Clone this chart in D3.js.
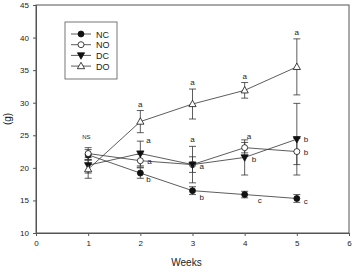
<!DOCTYPE html>
<html>
<head>
<meta charset="utf-8">
<script src="https://d3js.org/d3.v7.min.js"></script>
<style>
    body { margin: 0; background: white; }
    text { font-family: "Liberation Sans", Arial, sans-serif; fill: #222; }
</style>
</head>
<body>
<script>
    const weeks = [1, 2, 3, 4, 5];
    const groups = ['NC', 'NO', 'DC', 'DO'];

    // means and error (+/-) per group
    const ncMean = [22.0, 19.2, 16.5, 15.9, 15.3];
    const ncErr  = [0.8, 0.8, 0.6, 0.5, 0.6];
    const noMean = [22.2, 21.1, 20.5, 23.1, 22.5];
    const noErr  = [0.9, 1.0, 1.2, 0.8, 2.0];
    const dcMean = [20.4, 22.2, 20.5, 21.6, 24.4];
    const dcErr  = [1.2, 1.9, 2.8, 2.7, 5.5];
    const doMean = [19.8, 27.1, 29.8, 31.9, 35.5];
    const doErr  = [1.4, 1.7, 2.3, 1.2, 4.3];

    // significance letters: [week, value, dx, dy, text]
    const letters = [
        [1, 23.5, -6, -6, 'NS'],
        [2, 28.8, 0, -4, 'a'], [2, 24.1, 6, 2, 'a'], [2, 21.1, 7, 3, 'a'], [2, 19.2, 6, 9, 'b'],
        [3, 32.1, 0, -4, 'a'], [3, 23.3, 0, -4, 'a'], [3, 20.5, 7, 4, 'a'], [3, 16.5, 7, 9, 'b'],
        [4, 33.1, 0, -4, 'a'], [4, 23.9, 2, -3, 'a'], [4, 21.6, 7, 5, 'b'], [4, 15.9, 13, 8, 'c'],
        [5, 39.8, 0, -4, 'a'], [5, 24.4, 7, 3, 'b'], [5, 22.5, 7, 3, 'b'], [5, 15.3, 7, 6, 'c']
    ];

    const yTicks = [10, 15, 20, 25, 30, 35, 40, 45];
    const xTicks = [0, 1, 2, 3, 4, 5, 6];

    const series = [
        { name: 'NC', mean: ncMean, err: ncErr, shape: 'circle', fill: '#111' },
        { name: 'NO', mean: noMean, err: noErr, shape: 'circle', fill: 'white' },
        { name: 'DC', mean: dcMean, err: dcErr, shape: 'tridown', fill: '#111' },
        { name: 'DO', mean: doMean, err: doErr, shape: 'triup', fill: 'white' }
    ];

    const width = 353, height = 268;
    const margin = { top: 5, right: 4, bottom: 35, left: 36 };

    const svg = d3.select('body').append('svg')
        .attr('width', width).attr('height', height);

    const x = d3.scaleLinear().domain([0, 6]).range([margin.left, width - margin.right]);
    const y = d3.scaleLinear().domain([10, 45]).range([height - margin.bottom, margin.top]);

    // frame
    svg.append('rect')
        .attr('x', x(0)).attr('y', y(45))
        .attr('width', x(6) - x(0)).attr('height', y(10) - y(45))
        .attr('fill', 'none').attr('stroke', '#555').attr('stroke-width', 1);

    const xAxis = svg.append('g')
        .attr('transform', `translate(0,${y(10)})`)
        .call(d3.axisBottom(x).tickValues(xTicks).tickFormat(d3.format('d')).tickSize(3).tickPadding(4));
    const yAxis = svg.append('g')
        .attr('transform', `translate(${x(0)},0)`)
        .call(d3.axisLeft(y).tickValues(yTicks).tickSize(3).tickPadding(4));
    [xAxis, yAxis].forEach(a => {
        a.select('.domain').attr('stroke', '#555');
        a.selectAll('.tick line').attr('stroke', '#555');
        a.selectAll('text').style('font-size', '8px').attr('fill', '#222');
    });

    svg.append('text').attr('x', (x(0) + x(6)) / 2 - 6).attr('y', 266)
        .attr('text-anchor', 'middle').style('font-size', '10px').text('Weeks');
    svg.append('text')
        .attr('transform', `translate(11,${y(27.5)}) rotate(-90)`)
        .attr('text-anchor', 'middle').style('font-size', '10px').text('(g)');

    function marker(g, shape, fill) {
        if (shape === 'circle') {
            g.append('circle').attr('r', 3).attr('fill', fill).attr('stroke', '#111').attr('stroke-width', 0.8);
        } else {
            const pts = shape === 'triup' ? '0,-3.8 3.6,2.6 -3.6,2.6' : '0,3.8 3.6,-2.6 -3.6,-2.6';
            g.append('polygon').attr('points', pts).attr('fill', fill).attr('stroke', '#111').attr('stroke-width', 0.8);
        }
    }

    const line = d3.line().x((d, i) => x(weeks[i])).y(d => y(d));

    series.forEach(s => {
        svg.append('path').datum(s.mean).attr('d', line)
            .attr('fill', 'none').attr('stroke', '#333').attr('stroke-width', 0.8);
    });

    series.forEach(s => {
        const g = svg.append('g');
        s.mean.forEach((m, i) => {
            const cx = x(weeks[i]);
            const lo = y(m - s.err[i]), hi = y(m + s.err[i]);
            g.append('line').attr('x1', cx).attr('x2', cx).attr('y1', lo).attr('y2', hi)
                .attr('stroke', '#333').attr('stroke-width', 0.8);
            [lo, hi].forEach(yy => g.append('line').attr('x1', cx - 3.5).attr('x2', cx + 3.5)
                .attr('y1', yy).attr('y2', yy).attr('stroke', '#333').attr('stroke-width', 0.8));
        });
    });

    series.forEach(s => {
        s.mean.forEach((m, i) => {
            const g = svg.append('g').attr('transform', `translate(${x(weeks[i])},${y(m)})`);
            marker(g, s.shape, s.fill);
        });
    });

    svg.selectAll('.sig').data(letters).enter().append('text')
        .attr('class', 'sig')
        .attr('x', d => x(d[0]) + d[2]).attr('y', d => y(d[1]) + d[3])
        .attr('text-anchor', d => d[2] === 0 ? 'middle' : 'start')
        .style('font-size', d => d[4] === 'NS' ? '6px' : '8px')
        .text(d => d[4]);

    // legend
    const lg = svg.append('g').attr('transform', 'translate(65,22)');
    lg.append('rect').attr('width', 52).attr('height', 57)
        .attr('fill', 'white').attr('stroke', '#555').attr('stroke-width', 0.8);
    series.forEach((s, i) => {
        const row = lg.append('g').attr('transform', `translate(0,${12 + i * 10.7})`);
        row.append('line').attr('x1', 6).attr('x2', 26).attr('stroke', '#333').attr('stroke-width', 0.8);
        marker(row.append('g').attr('transform', 'translate(16,0)'), s.shape, s.fill);
        row.append('text').attr('x', 31).attr('y', 3.5).style('font-size', '9px').text(s.name);
    });
</script>
</body>
</html>
